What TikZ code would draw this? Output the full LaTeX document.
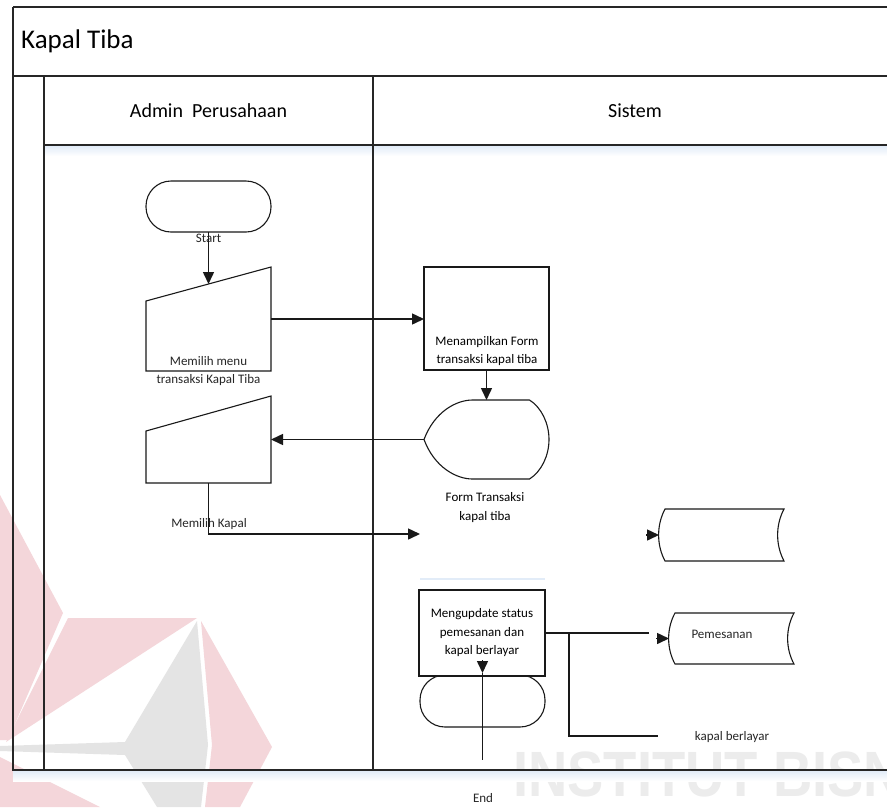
\documentclass[tikz,border=0pt]{standalone}
\usepackage{fontspec}
\setmainfont{Carlito}
\newfontfamily\wmfont{Liberation Sans}
\usetikzlibrary{arrows.meta,calc}
\definecolor{wmpink}{RGB}{244,214,218}
\definecolor{wmgrey}{RGB}{228,228,228}
\definecolor{wmtextgrey}{RGB}{236,236,236}
\definecolor{softblue}{RGB}{226,236,248}

\begin{document}
\begin{tikzpicture}[x=1pt,y=-1pt,
  lane/.style={draw=black!85, line width=1.3pt},
  shp/.style={draw=black!90, line width=1.1pt, fill=white},
  geo/.style={inner sep=0pt, outer sep=0pt, minimum width=125pt},
  conn/.style={draw=black!90, line width=1.5pt},
  arr/.style={conn, -{Triangle[length=12pt,width=11pt]}},
  lbl/.style={font=\fontsize{13}{18.5}\selectfont, align=center, inner sep=0pt, text=black!85},
  hdr/.style={font=\fontsize{20}{24}\selectfont, inner sep=0pt, anchor=base},
  pinkwm/.style={fill=wmpink},
  greywm/.style={fill=wmgrey},
  shadowband/.style={top color=softblue, bottom color=white, draw=none},
]
\useasboundingbox (0,0) rectangle (887,807);
\clip (0,0) rectangle (887,807);
\fill[white] (0,0) rectangle (887,807);

% ---- background logo and lettering
\fill[pinkwm] (0,495) -- (63,613) -- (8,740) -- (0,740) -- cycle;
\fill[pinkwm] (68,618) -- (197,618) -- (6,742) -- cycle;
\fill[greywm] (197,621) -- (125,742) -- (0,746) -- (0,751) -- (125,755) -- (157,807) -- (201,807) -- (208,745) -- cycle;
\fill[pinkwm] (201,621) -- (272,747) -- (240,807) -- (205,807) -- (212,745) -- cycle;
\fill[pinkwm] (0,757) -- (100,807) -- (0,807) -- cycle;
\node[anchor=base west, inner sep=0pt, xscale=0.85, transform shape,
      font=\wmfont\bfseries\fontsize{64}{68}\selectfont,
      text=wmtextgrey] (wmtext) at (513,796) {INSTITUT BISNIS};

% ---- soft bands under the horizontal lane borders
\shade[shadowband] (44,146) rectangle (887,156);
\shade[shadowband] (13,771) rectangle (887,781);

% ---- pool and lanes
\draw[lane] (13,7) -- (887,7);
\draw[lane] (13,7) -- (13,770) -- (887,770);
\draw[lane] (13,76) -- (887,76);
\draw[lane] (44,76) -- (44,770);
\draw[lane] (44,145) -- (887,145);
\draw[lane] (373,76) -- (373,770);

\node[anchor=base west, inner sep=0pt, font=\fontsize{27}{31}\selectfont] (pooltitle) at (21,48) {Kapal Tiba};
\node[hdr] (laneadmin) at (208.5,117) {Admin~ Perusahaan};
\node[hdr] (lanesys) at (635,117) {Sistem};

% ---- Admin Perusahaan lane
\node[geo, shp, minimum height=51pt, rounded corners=25pt] (start) at (208.5,206.5) {};
\node[lbl, anchor=base] (startlbl) at (208.5,242) {Start};

\node[geo, minimum height=104pt] (mi1) at (208.5,319) {};
\draw[shp] ([yshift=-34pt]mi1.north west) -- (mi1.north east) -- (mi1.south east) -- (mi1.south west) -- cycle;
\coordinate (mi1top) at (208.5,284);
\node[lbl] (mi1lbl) at (208.5,371) {Memilih menu\\transaksi Kapal Tiba};

\node[geo, minimum height=87pt] (mi2) at (208.5,439.5) {};
\draw[shp] ([yshift=-35pt]mi2.north west) -- (mi2.north east) -- (mi2.south east) -- (mi2.south west) -- cycle;
\node[lbl, anchor=base] (mi2lbl) at (209,527) {Memilih Kapal};

% ---- Sistem lane
\node[geo, shp, minimum height=103pt] (proc1) at (486.5,318.5) {};
\node[lbl, text=black] (proc1lbl) at (487,351) {Menampilkan Form\\transaksi kapal tiba};

\node[geo, minimum height=79pt] (disp) at (486.5,439.5) {};
\draw[shp, shift={(disp.center)}]
  (-62.5,0) .. controls (-52,-28) and (-30,-39.5) .. (-14,-39.5) -- (43,-39.5)
  .. controls (55,-32) and (62.5,-16) .. (62.5,0)
  .. controls (62.5,16) and (55,32) .. (43,39.5) -- (-14,39.5)
  .. controls (-30,39.5) and (-52,28) .. cycle;

\node[geo, minimum height=88pt, fill=white] (formbox) at (482.5,534) {};
\draw[softblue, line width=2pt] ([yshift=-1pt]formbox.south west) -- ([yshift=-1pt]formbox.south east);
\node[lbl, text=black] (formlbl) at (485,507.5) {Form Transaksi\\kapal tiba};

\node[geo, minimum height=52pt] (st1) at (721.5,535) {};
\draw[shp, shift={(st1.center)}]
  (-56.5,-26) -- (62.5,-26) .. controls (54,-10) and (54,10) .. (62.5,26)
  -- (-56.5,26) .. controls (-65,10) and (-65,-10) .. cycle;
\coordinate (st1in) at (646,535);

\node[geo, minimum height=51pt] (st2) at (731.5,638.5) {};
\draw[shp, shift={(st2.center)}]
  (-56.5,-25.5) -- (62.5,-25.5) .. controls (54,-10) and (54,10) .. (62.5,25.5)
  -- (-56.5,25.5) .. controls (-65,10) and (-65,-10) .. cycle;
\node[lbl, anchor=base] (st2lbl) at (722,638) {Pemesanan};
\coordinate (st2in) at (656,638.5);

\node[geo, shp, minimum height=52pt, rounded corners=25pt] (endt) at (482.5,701) {};
\node[geo, shp, line width=1.7pt, minimum width=126pt, minimum height=86pt, lbl, text=black] (proc2) at (482,633) {Mengupdate status\\pemesanan dan\\kapal berlayar};

\coordinate (p2out) at (649,633);
\coordinate (br) at (569,633);
\coordinate (kbend) at (658,736);
\node[lbl, anchor=base] (kblbl) at (732,740) {kapal berlayar};

\coordinate (endin) at (482.5,660);
\coordinate (endtip) at (482.5,673);
\coordinate (endout) at (482.5,760);
\node[lbl, anchor=base] (endlbl) at (483,802) {End};

% ---- connectors
\draw[arr] (start.south) -- (mi1top);
\draw[arr] (mi1.east) -- (mi1.east -| proc1.west);
\draw[arr] (proc1.south) -- (disp.north);
\draw[arr] (disp.west) -- (disp.west -| mi2.east);
\draw[arr] (mi2.south) |- (formbox.west);
\draw[arr] (st1in) -- (st1.west);
\draw[conn] (proc2.east) -- (p2out);
\draw[arr] (st2in) -- (st2.west);
\draw[conn] (br) |- (kbend);
\draw[arr] (endin) -- (endtip);
\draw[conn] (endtip) -- (endout);
\end{tikzpicture}
\end{document}
